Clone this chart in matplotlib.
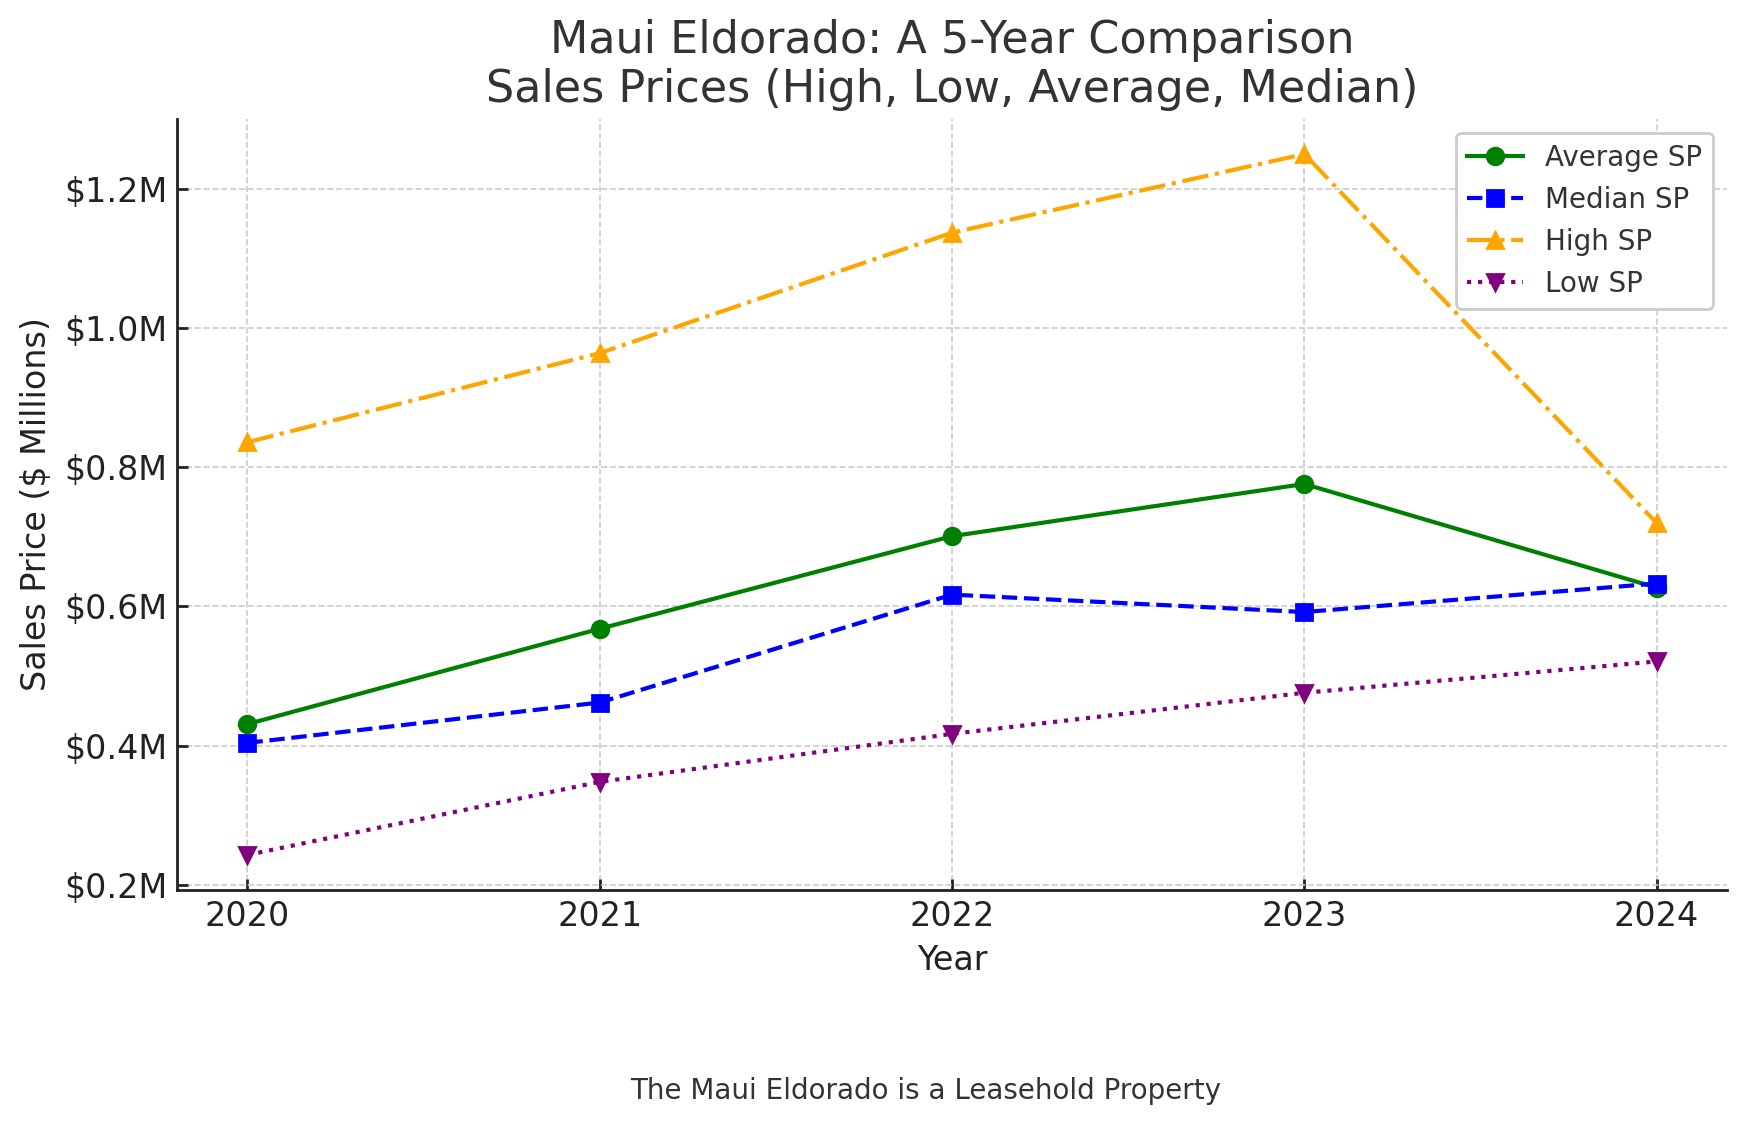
"""Maui Eldorado five-year sales price comparison."""

import matplotlib

matplotlib.use("Agg")
import matplotlib.pyplot as plt
from matplotlib.ticker import FuncFormatter

years = [2020, 2021, 2022, 2023, 2024]
average_sp = [0.431, 0.568, 0.701, 0.776, 0.627]
median_sp = [0.404, 0.462, 0.617, 0.592, 0.633]
high_sp = [0.836, 0.964, 1.137, 1.250, 0.720]
low_sp = [0.243, 0.348, 0.417, 0.476, 0.521]

plt.rcParams.update({
    "font.family": "DejaVu Sans",
    "text.color": "#333333",
    "axes.labelcolor": "#222222",
    "xtick.color": "#222222",
    "ytick.color": "#222222",
    "xtick.direction": "in",
    "ytick.direction": "in",
})

fig = plt.figure(figsize=(17.47 / 2, 11.26 / 2), dpi=200)
ax = fig.add_axes([0.1013, 0.2096, 0.8873, 0.6847])

ax.plot(years, average_sp, "-", marker="o", color="green", label="Average SP")
ax.plot(years, median_sp, "--", marker="s", color="blue", label="Median SP")
ax.plot(years, high_sp, "-.", marker="^", color="orange", label="High SP")
ax.plot(years, low_sp, ":", marker="v", color="purple", label="Low SP")

ax.set_title("Maui Eldorado: A 5-Year Comparison\nSales Prices (High, Low, Average, Median)",
             fontsize=16, color="#333333")
ax.set_xlabel("Year", fontsize=12)
ax.set_ylabel("Sales Price ($ Millions)", fontsize=12)
ax.set_xticks(years)
ax.yaxis.set_major_formatter(FuncFormatter(lambda v, _: f"${v:.1f}M"))
ax.tick_params(labelsize=12, width=1.0, length=4)

ax.grid(True, linestyle="--", color="#cccccc", linewidth=0.6)
for side in ("top", "right"):
    ax.spines[side].set_visible(False)
for side in ("left", "bottom"):
    ax.spines[side].set_color("#222222")
    ax.spines[side].set_linewidth(1.0)

leg = ax.legend(loc="upper right", fontsize=10, fancybox=True, edgecolor="#cccccc", framealpha=1.0)
for t in leg.get_texts():
    t.set_color("#333333")

fig.text(0.53, 0.031, "The Maui Eldorado is a Leasehold Property", ha="center", va="center",
         fontsize=10, color="#333333")

fig.savefig("out.png", dpi=200)
plt.close(fig)
